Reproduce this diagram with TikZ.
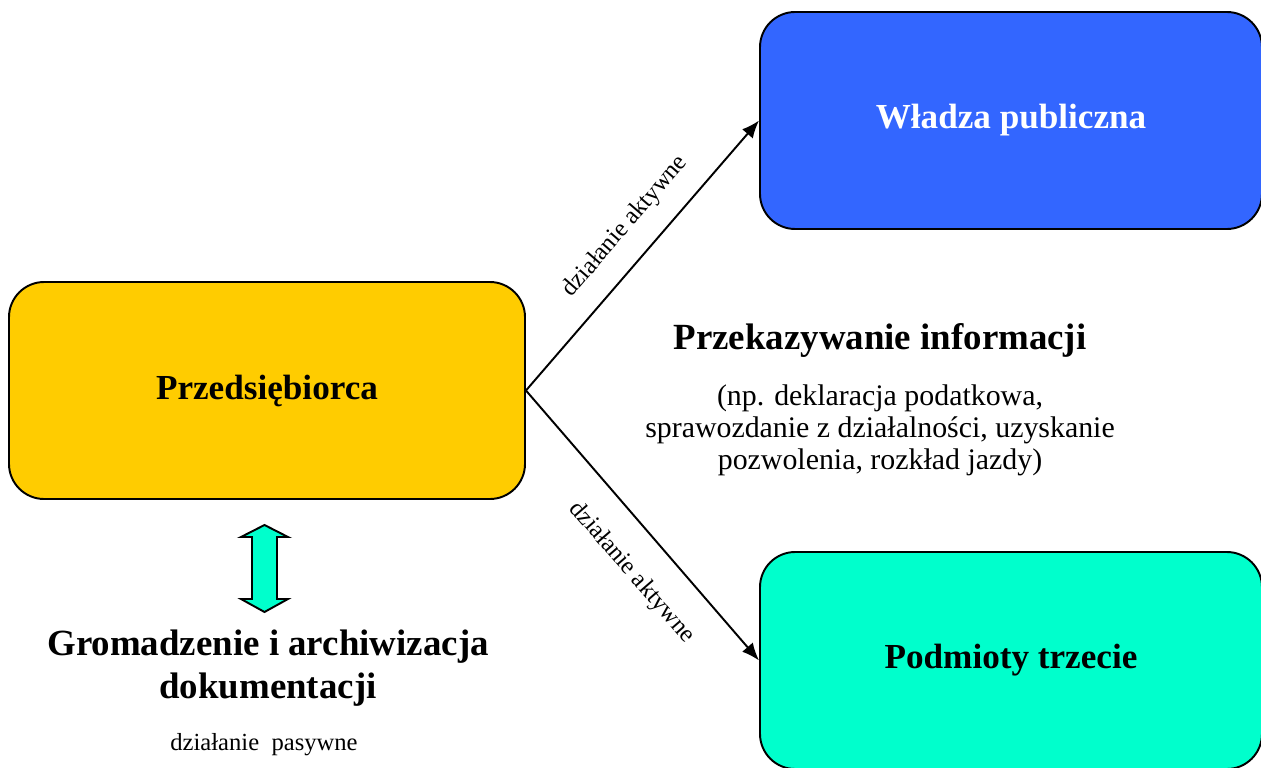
\documentclass[tikz,border=0pt]{standalone}
\usepackage{fontspec}
\setmainfont{Liberation Serif}
\usetikzlibrary{arrows.meta,positioning}

\definecolor{zolty}{HTML}{FFCC00}
\definecolor{niebieski}{HTML}{3366FF}
\definecolor{turkus}{HTML}{00FFCC}

\begin{document}
\begin{tikzpicture}[->,>={Latex[length=10pt,width=8pt]},line width=1.1pt,
    box/.style={rectangle,rounded corners=20pt,draw,minimum width=10.04cm,
      minimum height=4.34cm,font=\fontsize{20}{24}\selectfont\bfseries},
    tytul/.style={align=center,font=\fontsize{21}{24.5}\selectfont\bfseries},
    opis/.style={align=center,font=\fontsize{17}{18.2}\selectfont}]

\useasboundingbox (0,0) rectangle (25.22,-15.36);

\node[box, fill=zolty, minimum width=10.32cm] (przed) at (5.34,-7.81) {Przedsiębiorca};
\node[box, fill=niebieski, text=white] (wladza) at (20.22,-2.41) {Władza publiczna};
\node[box, fill=turkus] (podm) at (20.22,-13.21) {Podmioty trzecie};

\node[tytul] (przekaz) at (17.6,-6.8) {Przekazywanie informacji};
\node[opis] (przyklady) at (17.6,-8.6) {(np. deklaracja podatkowa,\\
  sprawozdanie z działalności, uzyskanie\\ pozwolenia, rozkład jazdy)};

\node[tytul] (archiw) at (5.36,-13.36) {Gromadzenie i archiwizacja\\ dokumentacji};
\node[font=\fontsize{14}{16}\selectfont] (pasyw) at (5.28,-14.9) {działanie\ \ pasywne};

% strzalka w obie strony
\draw[-,fill=turkus] (5.29,-10.5) -- (5.76,-10.74) -- (5.54,-10.74) -- (5.54,-11.98)
  -- (5.76,-11.98) -- (5.29,-12.24) -- (4.82,-11.98) -- (5.04,-11.98)
  -- (5.04,-10.74) -- (4.82,-10.74) -- cycle;

\path[every node/.style={font=\fontsize{14}{16}\selectfont,sloped}]
(przed.east) edge node[pos=0.53,above=8pt] {działanie aktywne} (wladza.west)
(przed.east) edge node[pos=0.58,below=12pt] {działanie aktywne} (podm.west)
;

\end{tikzpicture}
\end{document}
